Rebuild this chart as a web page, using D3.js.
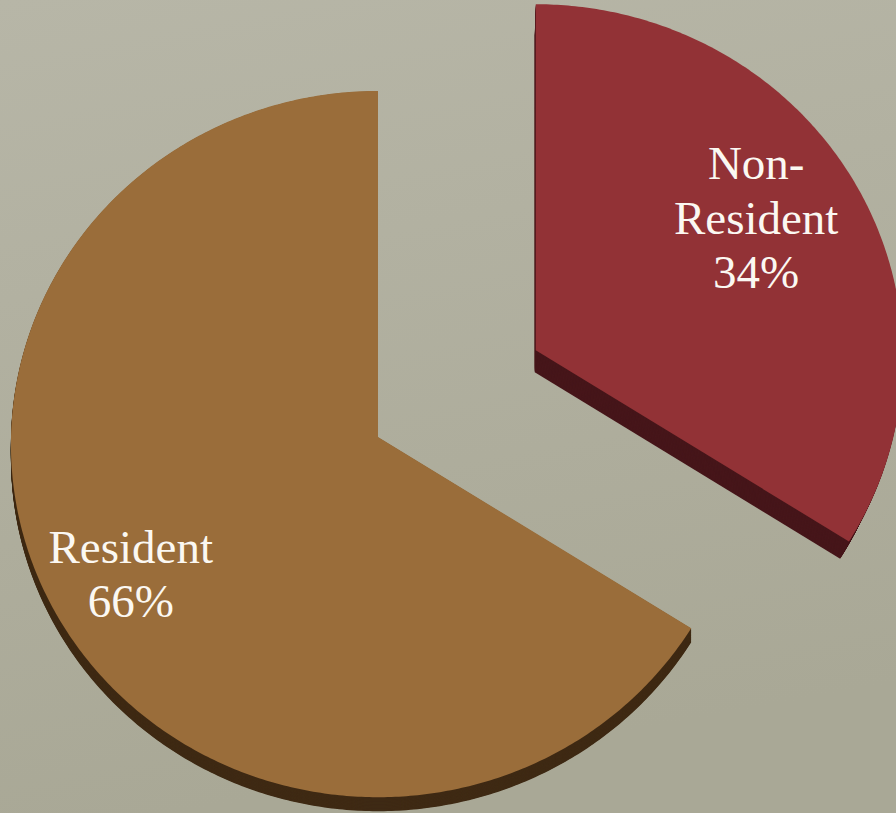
<!DOCTYPE html>
<html>
<head>
<meta charset="utf-8">
<script src="https://cdn.jsdelivr.net/npm/d3@7"></script>
<style>
  body { margin: 0; background: #b1b0a0; }
  svg { display: block; }
</style>
</head>
<body>
<div id="chart"></div>
<script>
// data
var categories = ["Resident", "Non-Resident"];
var shares = [66, 34];
var labelLines = [["Resident", "66%"], ["Non-", "Resident", "34%"]];

// constants
var width = 896, height = 813,
    cx = 378, cy = 437,       // centre of the pie top face
    rx = 367, ry = 353,       // radii of the tilted disc
    k = 0.02,                 // a little perspective
    explode = 180;

var topColor = ["#9a6d3a", "#923236"],
    sideColor = ["#3f2a14", "#46161a"],
    sideOffset = [[0, 14], [-1, 22]],
    sideScale = [1, 0.975],
    labelRadius = [0.8, 0.69],
    labelNudge = [[12, 16], [0, 0]];

var svg = d3.select("#chart").append("svg")
    .attr("width", width)
    .attr("height", height);

var defs = svg.append("defs");
var bg = defs.append("linearGradient")
    .attr("id", "bg")
    .attr("x1", 0).attr("y1", 0).attr("x2", 0.2).attr("y2", 1);
bg.append("stop").attr("offset", "0%").attr("stop-color", "#b7b6a7");
bg.append("stop").attr("offset", "100%").attr("stop-color", "#a9a896");

svg.append("rect")
    .attr("width", width)
    .attr("height", height)
    .attr("fill", "url(#bg)");

// project a point of the unit disc (u right, v down) onto the screen
function project(u, v) {
    var w = 1 - k * v;
    return [rx * u / w, ry * v / w];
}

var pie = d3.pie()
    .sort(null)
    .value(function(d) { return d; })
    .startAngle(2 * Math.PI * shares[1] / d3.sum(shares))
    .endAngle(2 * Math.PI * (1 + shares[1] / d3.sum(shares)));

var arcs = pie(shares);

var line = d3.line().curve(d3.curveLinearClosed);

function slicePoints(d) {
    var n = Math.max(2, Math.ceil((d.endAngle - d.startAngle) / 0.01));
    var pts = [project(0, 0)];
    d3.range(n + 1).forEach(function(i) {
        var a = d.startAngle + (d.endAngle - d.startAngle) * i / n;
        pts.push(project(Math.sin(a), -Math.cos(a)));
    });
    return pts;
}

arcs.forEach(function(d, i) {
    var mid = (d.startAngle + d.endAngle) / 2;
    var ox = cx, oy = cy;
    if (i === 1) {
        ox += explode * Math.sin(mid);
        oy -= explode * Math.cos(mid);
    }
    var g = svg.append("g")
        .attr("transform", "translate(" + ox + "," + oy + ")");
    var path = line(slicePoints(d));

    // side of the slice, stacked copies moving down (and shrinking a bit)
    var steps = 24;
    d3.range(steps, 0, -1).forEach(function(s) {
        var t = s / steps,
            sc = 1 + (sideScale[i] - 1) * t;
        g.append("path")
            .attr("d", path)
            .attr("transform", "translate(" + (sideOffset[i][0] * t) + "," + (sideOffset[i][1] * t) + ") scale(" + sc + ")")
            .attr("fill", sideColor[i]);
    });

    g.append("path")
        .attr("d", path)
        .attr("fill", topColor[i]);

    var p = project(labelRadius[i] * Math.sin(mid), -labelRadius[i] * Math.cos(mid));
    var lines = labelLines[i];
    var text = g.append("text")
        .attr("x", p[0] + labelNudge[i][0])
        .attr("y", p[1] + labelNudge[i][1])
        .attr("text-anchor", "middle")
        .style("font-family", "'Liberation Serif', 'DejaVu Serif', serif")
        .style("font-size", "47px")
        .attr("fill", "#fbf8f2");
    lines.forEach(function(t, j) {
        text.append("tspan")
            .attr("x", p[0] + labelNudge[i][0])
            .attr("dy", j === 0 ? (-(lines.length - 1) / 2 * 54.5) : 54.5)
            .text(t);
    });
});
</script>
</body>
</html>
